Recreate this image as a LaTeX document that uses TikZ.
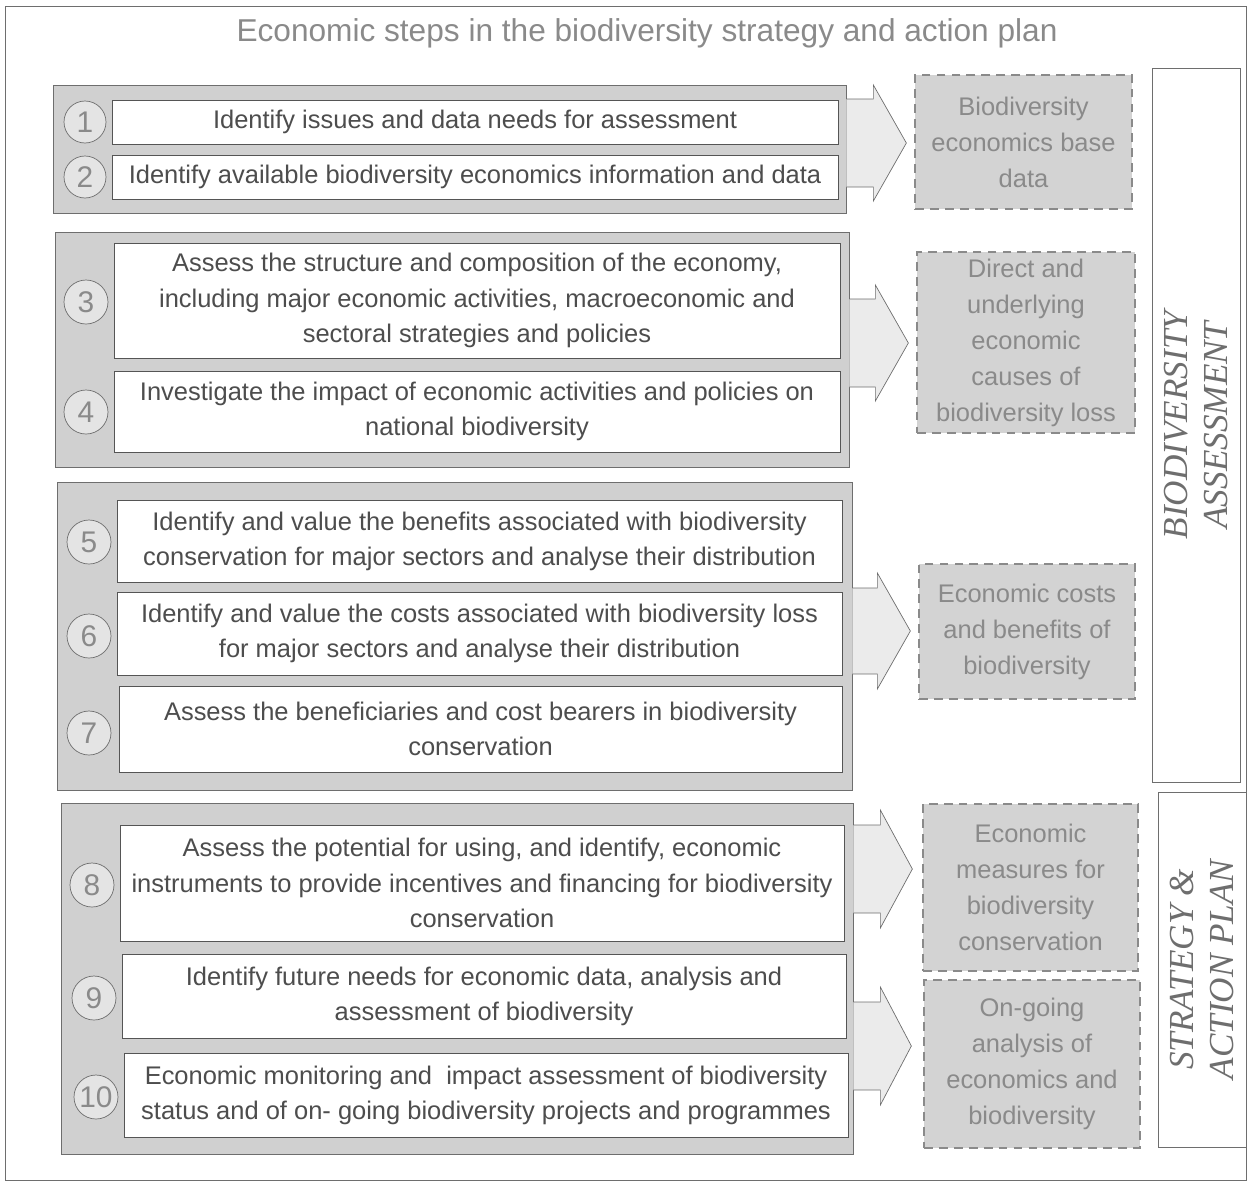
\documentclass[tikz,border=0pt]{standalone}
\usepackage{fontspec}
\setmainfont{Liberation Sans}
\newfontfamily\sidefont{Liberation Serif}
\usetikzlibrary{fit}

\definecolor{framegray}{HTML}{6E6E6E}
\definecolor{boxgray}{HTML}{555555}
\definecolor{textgray}{HTML}{4D4D4D}
\definecolor{lightgray}{HTML}{8A8A8A}
\definecolor{groupgray}{HTML}{D0D0D0}
\definecolor{dashgray}{HTML}{D3D3D3}
\definecolor{arrowgray}{HTML}{EBEBEB}
\definecolor{circlegray}{HTML}{E4E4E4}

\begin{document}
\begin{tikzpicture}[x=0.02cm, y=-0.02cm,
                    every node/.style={font=\fontsize{14.5}{20}\selectfont, text=textgray},
                    group/.style={draw=framegray, fill=groupgray, inner sep=0pt},
                    stepbox/.style={draw=boxgray, fill=white, inner sep=0pt},
                    steptext/.style={align=center, inner sep=0pt},
                    number/.style={circle, draw=framegray, fill=circlegray, minimum size=0.88cm,
                                   inner sep=0pt, text=lightgray, font=\fontsize{17}{17}\selectfont},
                    result/.style={draw=lightgray, fill=dashgray, line width=1.4pt,
                                   dash pattern=on 5pt off 3.5pt, inner sep=0pt},
                    resulttext/.style={align=center, inner sep=0pt, text=lightgray,
                                       font=\fontsize{14.5}{20.5}\selectfont},
                    bigarrow/.style={draw=framegray, fill=arrowgray, line join=miter},
                    phase/.style={draw=framegray, fill=white, inner sep=0pt},
                    phaselabel/.style={rotate=90, align=center, text=framegray,
                                       font=\sidefont\itshape\fontsize{20}{23}\selectfont}
]
\useasboundingbox (0,0) rectangle (1247,1184);
\draw[framegray] (5,6) rectangle (1246,1180);

\node[text=lightgray, font=\fontsize{18}{20}\selectfont] (title) at (647,33)
    {Economic steps in the biodiversity strategy and action plan};

% step groups
\node[group, fit={(53,85) (846,213)}] (g1) {};
\node[group, fit={(55,232) (849,467)}] (g2) {};
\node[group, fit={(57,482) (852,790)}] (g3) {};
\node[group, fit={(61,803) (853,1154)}] (g4) {};

\node[stepbox, fit={(112,100) (838,144)},
      label={[steptext]center:Identify issues and data needs for assessment}] (s1) {};
\node[stepbox, fit={(112,155) (838,199)},
      label={[steptext]center:Identify available biodiversity economics information and data}] (s2) {};
\node[stepbox, fit={(114,243) (840,358)},
      label={[steptext]center:{Assess the structure and composition of the economy,\\
       including major economic activities, macroeconomic and\\
       sectoral strategies and policies}}] (s3) {};
\node[stepbox, fit={(114,371) (840,452)},
      label={[steptext]center:{Investigate the impact of economic activities and policies on\\
       national biodiversity}}] (s4) {};
\node[stepbox, fit={(117,500) (842,582)},
      label={[steptext]center:{Identify and value the benefits associated with biodiversity\\
       conservation for major sectors and analyse their distribution}}] (s5) {};
\node[stepbox, fit={(117,592) (842,675)},
      label={[steptext]center:{Identify and value the costs associated with biodiversity loss\\
       for major sectors and analyse their distribution}}] (s6) {};
\node[stepbox, fit={(119,686) (842,772)},
      label={[steptext]center:{Assess the beneficiaries and cost bearers in biodiversity\\
       conservation}}] (s7) {};
\node[stepbox, fit={(120,825) (844,941)},
      label={[steptext]center:{Assess the potential for using, and identify, economic\\
       instruments to provide incentives and financing for biodiversity\\
       conservation}}] (s8) {};
\node[stepbox, fit={(122,954) (846,1038)},
      label={[steptext]center:{Identify future needs for economic data, analysis and\\
       assessment of biodiversity}}] (s9) {};
\node[stepbox, fit={(124,1053) (848,1137)},
      label={[steptext]center:{Economic monitoring and \ impact assessment of biodiversity\\
       status and of on- going biodiversity projects and programmes}}] (s10) {};

\node[number, minimum size=0.84cm] at (85,122) (n1) {1};
\node[number, minimum size=0.84cm] at (85,177) (n2) {2};
\node[number] at (86,302) (n3) {3};
\node[number] at (86,412) (n4) {4};
\node[number] at (89,542) (n5) {5};
\node[number] at (89,636) (n6) {6};
\node[number] at (89,733) (n7) {7};
\node[number] at (92,885) (n8) {8};
\node[number] at (94,998) (n9) {9};
\node[number] at (96,1097) (n10) {10};

% outputs
\node[result, fit={(915,75) (1132,209)},
      label={[resulttext]center:{Biodiversity\\ economics base\\ data}}] (d1) {};
\node[result, fit={(917,252) (1135,433)},
      label={[resulttext]center:{Direct and\\ underlying\\ economic\\ causes of\\ biodiversity loss}}] (d2) {};
\node[result, fit={(919,564) (1135,699)},
      label={[resulttext]center:{Economic costs\\ and benefits of\\ biodiversity}}] (d3) {};
\node[result, fit={(923,804) (1138,971)},
      label={[resulttext]center:{Economic\\ measures for\\ biodiversity\\ conservation}}] (d4) {};
\node[result, fit={(924,980) (1140,1148)},
      label={[resulttext]center:{On-going\\ analysis of\\ economics and\\ biodiversity}}] (d5) {};

% block arrows from the groups
\draw[bigarrow] (g1.east |- 0,143) ++(0,-44) -- ++(27,0) -- ++(0,-14) -- ++(33,58) -- ++(-33,58) -- ++(0,-14) -- ++(-27,0);
\draw[bigarrow] (g2.east |- 0,343) ++(0,-44) -- ++(26,0) -- ++(0,-14) -- ++(33,58) -- ++(-33,58) -- ++(0,-14) -- ++(-26,0);
\draw[bigarrow] (g3.east |- 0,631) ++(0,-43) -- ++(25,0) -- ++(0,-15) -- ++(33,58) -- ++(-33,58) -- ++(0,-15) -- ++(-25,0);
\draw[bigarrow] (g4.east |- 0,869) ++(0,-44) -- ++(27,0) -- ++(0,-15) -- ++(32,59) -- ++(-32,59) -- ++(0,-15) -- ++(-27,0);
\draw[bigarrow] (g4.east |- 0,1046) ++(0,-44) -- ++(27,0) -- ++(0,-15) -- ++(31,59) -- ++(-31,59) -- ++(0,-15) -- ++(-27,0);

% phases
\node[phase, fit={(1152,68) (1240,782)}] (pA) {};
\node[phase, fit={(1158,792) (1246,1147)}] (pB) {};
\node[phaselabel] at (pA) (pAlabel) {BIODIVERSITY\\ ASSESSMENT};
\node[phaselabel] at (pB) (pBlabel) {STRATEGY \&\\ ACTION PLAN};

\end{tikzpicture}
\end{document}
